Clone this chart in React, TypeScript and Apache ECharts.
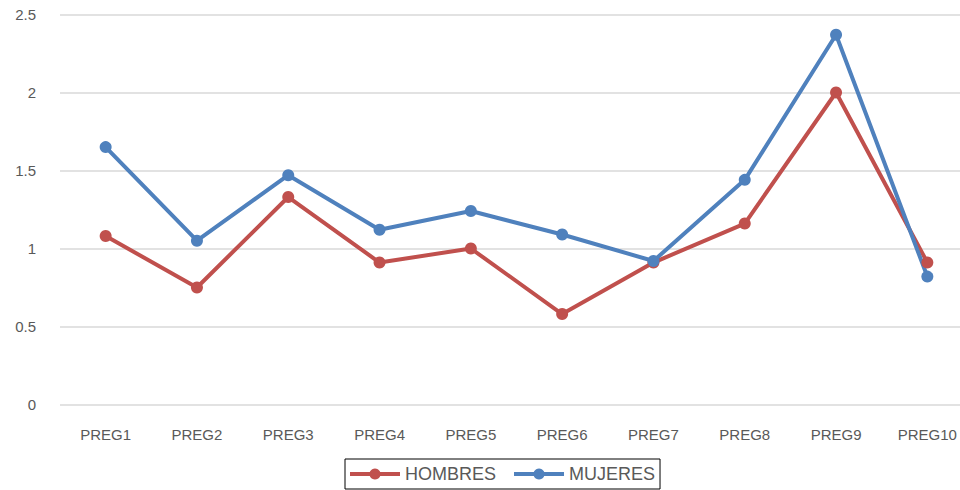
import React, { useEffect, useRef } from "react";
import * as echarts from "echarts";

const categories = ["PREG1", "PREG2", "PREG3", "PREG4", "PREG5", "PREG6", "PREG7", "PREG8", "PREG9", "PREG10"];
const hombres = [1.08, 0.75, 1.33, 0.91, 1.0, 0.58, 0.91, 1.16, 2.0, 0.91];
const mujeres = [1.65, 1.05, 1.47, 1.12, 1.24, 1.09, 0.92, 1.44, 2.37, 0.82];
const yTicks = { min: 0, max: 2.5, interval: 0.5 };

export default function App() {
  const ref = useRef<HTMLDivElement>(null);
  useEffect(() => {
    document.body.style.margin = "0";
    document.body.style.overflow = "hidden";
    if (!ref.current) return;
    const chart = echarts.init(ref.current, null, { renderer: "svg" });
    const font = "'Liberation Sans', Arial, Helvetica, sans-serif";
    chart.setOption({
      animation: false,
      backgroundColor: "#ffffff",
      textStyle: { fontFamily: font },
      grid: { left: 60, right: 0, top: 14.5, bottom: 85.5, containLabel: false },
      legend: {
        data: ["HOMBRES", "MUJERES"],
        left: 345,
        bottom: 1,
        itemWidth: 50,
        itemHeight: 14,
        itemGap: 16,
        padding: [6, 5, 6, 3],
        borderColor: "#000000",
        borderWidth: 1,
        lineStyle: { width: 4 },
        textStyle: { fontSize: 18, color: "#595959", fontFamily: font },
      },
      xAxis: {
        type: "category",
        data: categories,
        boundaryGap: true,
        axisLine: { show: false },
        axisTick: { show: false },
        axisLabel: { fontSize: 15, color: "#595959", margin: 22, fontFamily: font },
      },
      yAxis: {
        type: "value",
        min: yTicks.min,
        max: yTicks.max,
        interval: yTicks.interval,
        axisLine: { show: false },
        axisTick: { show: false },
        axisLabel: { fontSize: 15, color: "#595959", margin: 24, fontFamily: font },
        splitLine: { lineStyle: { color: "#D9D9D9", width: 1.5 } },
      },
      series: [
        {
          name: "HOMBRES",
          type: "line",
          data: hombres,
          symbol: "circle",
          symbolSize: 12,
          lineStyle: { width: 4, color: "#C0504D" },
          itemStyle: { color: "#C0504D" },
        },
        {
          name: "MUJERES",
          type: "line",
          data: mujeres,
          symbol: "circle",
          symbolSize: 12,
          lineStyle: { width: 4, color: "#4F81BD" },
          itemStyle: { color: "#4F81BD" },
        },
      ],
    });
    return () => chart.dispose();
  }, []);
  return <div ref={ref} style={{ width: 973, height: 490 }} />;
}
